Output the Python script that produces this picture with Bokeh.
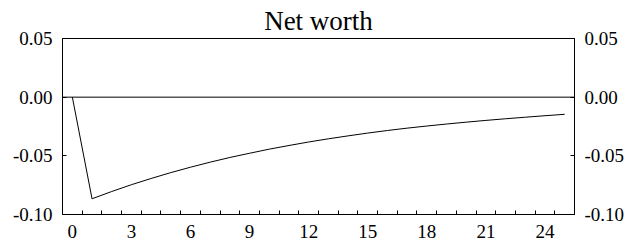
from bokeh.plotting import figure
from bokeh.models import FixedTicker, LinearAxis, Span, Range1d, NumeralTickFormatter
from bokeh.embed import file_html
from bokeh.resources import INLINE

periods = list(range(0, 26))
net_worth = [0.0, -0.0866, -0.0804, -0.0746, -0.0693, -0.0643, -0.0597, -0.0554,
             -0.0514, -0.0478, -0.0443, -0.0412, -0.0382, -0.0355, -0.0330, -0.0306,
             -0.0284, -0.0264, -0.0246, -0.0229, -0.0213, -0.0198, -0.0184, -0.0171,
             -0.0158, -0.0146]
x_major = [0, 3, 6, 9, 12, 15, 18, 21, 24]
x_minor = [i + 0.5 for i in range(0, 25)]
y_ticks = [-0.10, -0.05, 0.00, 0.05]

FONT = "'Liberation Serif', 'Times New Roman', serif"
X0, X1, Y0, Y1 = -0.5, 25.5, -0.10, 0.05

p = figure(width=633, height=240, output_backend="svg", toolbar_location=None,
           x_range=Range1d(X0, X1), y_range=Range1d(Y0, Y1),
           title="Net worth", min_border_left=62, min_border_right=59,
           min_border_bottom=25, min_border_top=38)
p.title.text_font = FONT
p.title.text_font_size = "27px"
p.title.text_font_style = "normal"
p.title.text_color = "black"
p.title.align = "center"
p.title.standoff = 5
p.grid.visible = False
p.outline_line_color = "black"

xa = p.xaxis[0]
xa.ticker = FixedTicker(ticks=x_major, minor_ticks=x_minor)
xa.major_tick_line_color = None
xa.minor_tick_in = 4
xa.minor_tick_out = 0
xa.major_label_text_font = FONT
xa.major_label_text_font_size = "19px"
xa.major_label_text_color = "black"
xa.major_label_standoff = 4

ya = p.yaxis[0]
ya.ticker = FixedTicker(ticks=y_ticks)
ya.formatter = NumeralTickFormatter(format="0.00")
ya.major_tick_in = 4
ya.major_tick_out = 0
ya.minor_tick_line_color = None
ya.major_label_text_font = FONT
ya.major_label_text_font_size = "19px"
ya.major_label_text_color = "black"
ya.major_label_standoff = 10

ra = LinearAxis(ticker=FixedTicker(ticks=y_ticks), formatter=NumeralTickFormatter(format="0.00"))
ra.major_tick_in = 4
ra.major_tick_out = 0
ra.minor_tick_line_color = None
ra.major_label_text_font = FONT
ra.major_label_text_font_size = "19px"
ra.major_label_text_color = "black"
ra.major_label_standoff = 10
p.add_layout(ra, "right")

p.add_layout(Span(location=0, dimension="width", line_color="black", line_width=1))
p.line(periods, net_worth, line_color="black", line_width=1)

open("out.html", "w").write(file_html(p, INLINE))
